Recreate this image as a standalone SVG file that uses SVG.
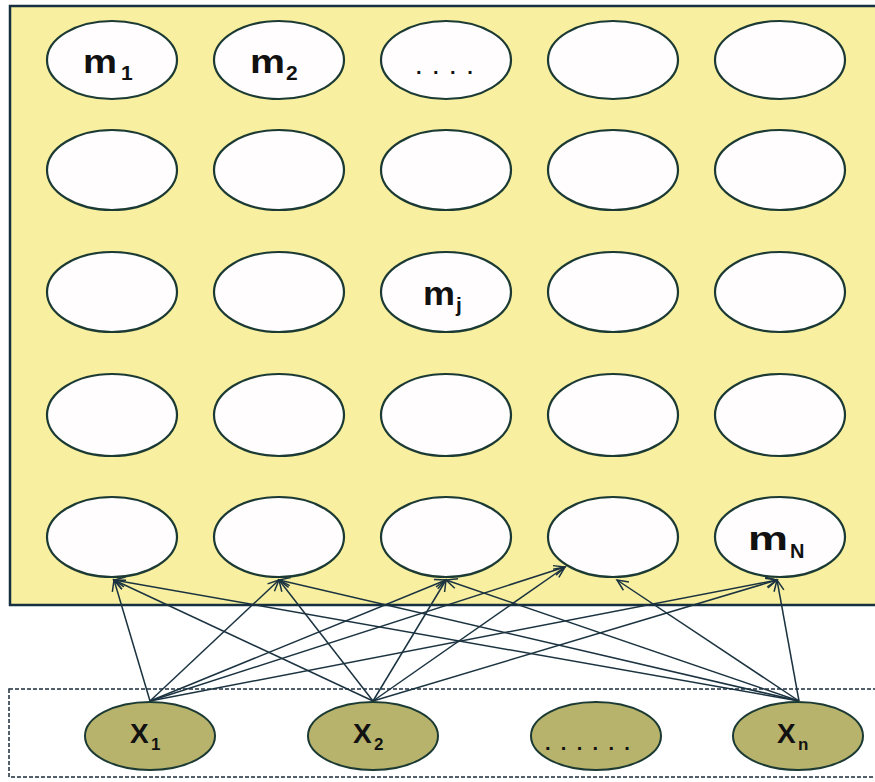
<svg xmlns="http://www.w3.org/2000/svg" width="875" height="782" viewBox="0 0 875 782">
<style>
.m{fill:#fffdfd;stroke:#1c3a34;stroke-width:2.2}
.x{fill:#b7b26c;stroke:#1c3a34;stroke-width:2}
.t{font-family:"Liberation Sans",Arial,sans-serif;font-weight:bold;fill:#111}
.c line{stroke:#1b3340;stroke-width:1.5;marker-end:url(#ah)}
</style>
<defs>
<marker id="ah" markerUnits="userSpaceOnUse" markerWidth="14" markerHeight="14" refX="12" refY="6" orient="auto">
<path d="M1,1 L12,6 L1,11" fill="none" stroke="#1b3340" stroke-width="1.5"/>
</marker>
</defs>
<rect x="0" y="0" width="875" height="782" fill="#ffffff"/>
<rect id="map" x="10" y="6" width="875" height="599" fill="#f8f0a0" stroke="#163040" stroke-width="2.5"/>
<rect id="input" x="9" y="689" width="880" height="88" fill="#ffffff" stroke="#1b2c3c" stroke-width="1.5" stroke-dasharray="4 2"/>

<g class="c" id="connectors">
<line x1="150" y1="701" x2="114" y2="580"/>
<line x1="150" y1="701" x2="279" y2="580"/>
<line x1="150" y1="701" x2="446" y2="580"/>
<line x1="150" y1="701" x2="565" y2="567"/>
<line x1="150" y1="701" x2="777" y2="580"/>
<line x1="373" y1="701" x2="114" y2="580"/>
<line x1="373" y1="701" x2="279" y2="580"/>
<line x1="373" y1="701" x2="446" y2="580"/>
<line x1="373" y1="701" x2="565" y2="567"/>
<line x1="373" y1="701" x2="777" y2="580"/>
<line x1="799" y1="701" x2="114" y2="580"/>
<line x1="799" y1="701" x2="279" y2="580"/>
<line x1="799" y1="701" x2="446" y2="580"/>
<line x1="799" y1="701" x2="617" y2="580"/>
<line x1="799" y1="701" x2="777" y2="580"/>
</g>

<g id="m-r1c1"><ellipse class="m" cx="112" cy="60" rx="65" ry="39"/><text class="t" y="73"><tspan x="83" font-size="33" textLength="34" lengthAdjust="spacingAndGlyphs">m</tspan><tspan x="121" y="80" font-size="21">1</tspan></text></g>
<g id="m-r1c2"><ellipse class="m" cx="279" cy="60" rx="65" ry="39"/><text class="t" y="73"><tspan x="250" font-size="33" textLength="35" lengthAdjust="spacingAndGlyphs">m</tspan><tspan x="286" y="80" font-size="21">2</tspan></text></g>
<g id="m-r1c3"><ellipse class="m" cx="446" cy="60" rx="65" ry="39"/><text class="t" x="416" y="74" font-size="20" letter-spacing="11.5" fill="#445">....</text></g>
<g id="m-r1c4"><ellipse class="m" cx="613" cy="60" rx="65" ry="39"/></g>
<g id="m-r1c5"><ellipse class="m" cx="780" cy="60" rx="65" ry="39"/></g>

<g id="m-r2c1"><ellipse class="m" cx="112" cy="170" rx="65" ry="40"/></g>
<g id="m-r2c2"><ellipse class="m" cx="279" cy="170" rx="65" ry="40"/></g>
<g id="m-r2c3"><ellipse class="m" cx="446" cy="170" rx="65" ry="40"/></g>
<g id="m-r2c4"><ellipse class="m" cx="613" cy="170" rx="65" ry="40"/></g>
<g id="m-r2c5"><ellipse class="m" cx="780" cy="170" rx="65" ry="40"/></g>

<g id="m-r3c1"><ellipse class="m" cx="112" cy="292" rx="65" ry="40"/></g>
<g id="m-r3c2"><ellipse class="m" cx="279" cy="292" rx="65" ry="40"/></g>
<g id="m-r3c3"><ellipse class="m" cx="446" cy="292" rx="65" ry="40"/><text class="t" y="305"><tspan x="423" font-size="33" textLength="32" lengthAdjust="spacingAndGlyphs">m</tspan><tspan x="456" y="312" font-size="21">j</tspan></text></g>
<g id="m-r3c4"><ellipse class="m" cx="613" cy="292" rx="65" ry="40"/></g>
<g id="m-r3c5"><ellipse class="m" cx="780" cy="292" rx="65" ry="40"/></g>

<g id="m-r4c1"><ellipse class="m" cx="112" cy="415" rx="65" ry="41"/></g>
<g id="m-r4c2"><ellipse class="m" cx="279" cy="415" rx="65" ry="41"/></g>
<g id="m-r4c3"><ellipse class="m" cx="446" cy="415" rx="65" ry="41"/></g>
<g id="m-r4c4"><ellipse class="m" cx="613" cy="415" rx="65" ry="41"/></g>
<g id="m-r4c5"><ellipse class="m" cx="780" cy="415" rx="65" ry="41"/></g>

<g id="m-r5c1"><ellipse class="m" cx="112" cy="537" rx="65" ry="40"/></g>
<g id="m-r5c2"><ellipse class="m" cx="279" cy="537" rx="65" ry="40"/></g>
<g id="m-r5c3"><ellipse class="m" cx="446" cy="537" rx="65" ry="40"/></g>
<g id="m-r5c4"><ellipse class="m" cx="613" cy="537" rx="65" ry="40"/></g>
<g id="m-r5c5"><ellipse class="m" cx="780" cy="537" rx="65" ry="40"/><text class="t" y="550"><tspan x="748" font-size="33" textLength="40" lengthAdjust="spacingAndGlyphs">m</tspan><tspan x="790" y="558" font-size="20">N</tspan></text></g>

<g id="x1"><ellipse class="x" cx="150" cy="736" rx="65" ry="34"/><text class="t" y="743"><tspan x="130" font-size="28">X</tspan><tspan x="151" y="750" font-size="17">1</tspan></text></g>
<g id="x2"><ellipse class="x" cx="373" cy="736" rx="65" ry="34"/><text class="t" y="743"><tspan x="353" font-size="28">X</tspan><tspan x="374" y="750" font-size="17">2</tspan></text></g>
<g id="xdots"><ellipse class="x" cx="596" cy="736" rx="65" ry="34"/><text class="t" x="545" y="750" font-size="20" letter-spacing="10.3">......</text></g>
<g id="xn"><ellipse class="x" cx="798" cy="736" rx="65" ry="34"/><text class="t" y="743"><tspan x="777" font-size="28">X</tspan><tspan x="798" y="750" font-size="17">n</tspan></text></g>
</svg>
